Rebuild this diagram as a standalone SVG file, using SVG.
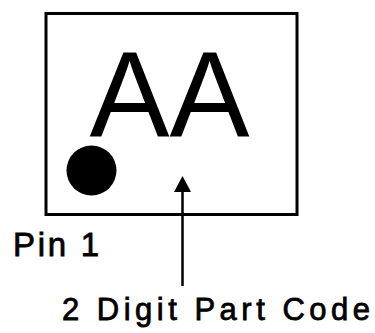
<svg xmlns="http://www.w3.org/2000/svg" width="375" height="333" viewBox="0 0 375 333">
<style>
.lbl{font-family:"Liberation Sans",Arial,sans-serif;fill:#000}
.sm{stroke:#000;stroke-width:0.8}
</style>
<rect width="375" height="333" fill="#fff"/>
<g id="chip">
<rect x="46" y="13.5" width="251" height="201" fill="none" stroke="#000" stroke-width="3"/>
<text class="lbl" x="169.5" y="137" font-size="122" text-anchor="middle" textLength="160" lengthAdjust="spacingAndGlyphs">AA</text>
<circle cx="91.5" cy="170.5" r="25" fill="#000"/>
</g>
<g id="pin1">
<text class="lbl sm" x="13" y="256" font-size="33" textLength="86" lengthAdjust="spacing">Pin 1</text>
</g>
<g id="partcode">
<text class="lbl sm" x="62" y="320" font-size="31" textLength="308" lengthAdjust="spacing">2 Digit Part Code</text>
</g>
<g id="connectors">
<line x1="182.5" y1="286" x2="182.5" y2="188" stroke="#000" stroke-width="2.5"/>
<path d="M182.5 176 L191 192 L174 192 Z" fill="#000"/>
</g>
</svg>
